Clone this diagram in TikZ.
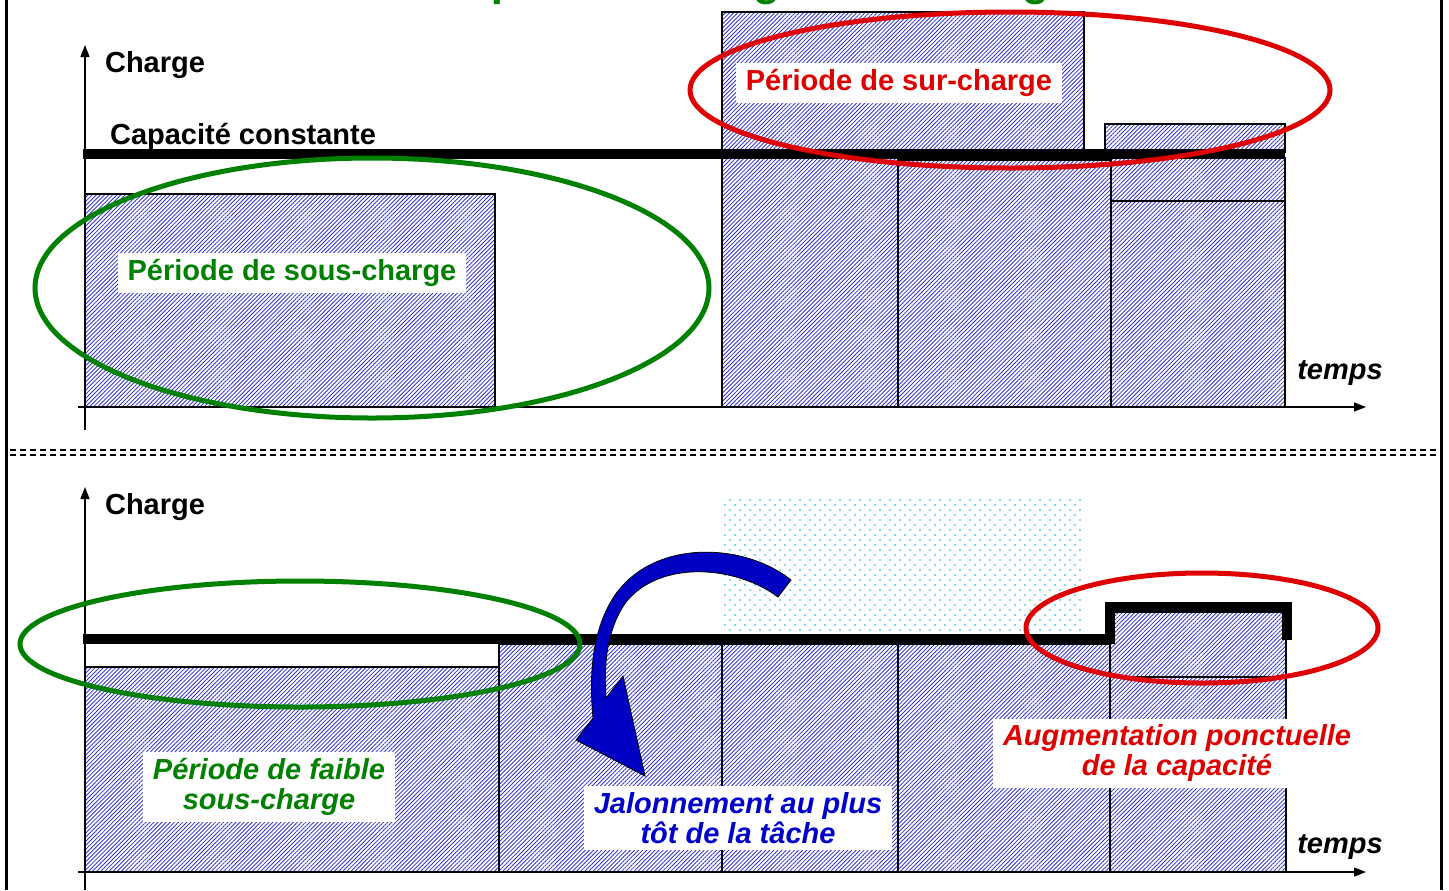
\documentclass[tikz,border=0pt]{standalone}
\usepackage{fontspec}
\setmainfont{Liberation Sans}
\usetikzlibrary{arrows.meta, patterns.meta}

\definecolor{loadgreen}{RGB}{0,128,0}
\definecolor{loadred}{RGB}{222,0,0}
\definecolor{loadblue}{RGB}{0,0,204}
\definecolor{hatchblue}{RGB}{50,50,205}
\definecolor{dotcyan}{RGB}{20,175,230}

\pgfdeclarepatternformonly{speckle}{\pgfqpoint{-1pt}{-1pt}}{\pgfqpoint{6pt}{6pt}}{\pgfqpoint{5pt}{5pt}}{%
  \pgfpathcircle{\pgfqpoint{0pt}{0pt}}{0.4pt}
  \pgfpathcircle{\pgfqpoint{2.5pt}{2.5pt}}{0.4pt}
  \pgfusepath{fill}}

\begin{document}
\begin{tikzpicture}[
    x=0.5pt, y=-0.5pt,
    font=\fontsize{14.5}{15}\selectfont\bfseries,
    loadbar/.style={draw, line width=0.7pt, pattern={Lines[angle=45, distance=1.45pt, line width=0.42pt]}, pattern color=hatchblue},
    capline/.style={line width=5pt},
    axis/.style={-{Triangle[length=6pt, width=4.5pt]}, line width=0.7pt},
    zone/.style={line width=2.5pt},
    tag/.style={fill=white, inner xsep=5pt, inner ysep=3pt, align=center},
    slant/.style={font=\fontsize{14.5}{15}\selectfont\bfseries\itshape}
]
  \useasboundingbox (0,0) rectangle (1449,890);

  % title, cut by the page
  \node[anchor=base, text=loadgreen, font=\fontsize{22}{24}\selectfont\bfseries] (title) at (706,-5) {Techniques de lissage de la charge};

  % frame and separator
  \draw[line width=1.5pt] (6,0) -- (6,890);
  \draw[line width=1.5pt] (1441,0) -- (1441,890);
  \draw[line width=0.6pt, dash pattern=on 3pt off 2pt] (10,450) -- (1438,450);
  \draw[line width=0.6pt, dash pattern=on 3pt off 2pt] (10,455) -- (1438,455);

  % upper panel: load bars
  \draw[loadbar] (85,194) rectangle (495,407);
  \draw[loadbar] (722,12) rectangle (1084,152);
  \draw[loadbar] (722,158) rectangle (898,407);
  \draw[loadbar] (898,160) rectangle (1111,407);
  \draw[loadbar] (1105,124) rectangle (1285,152);
  \draw[loadbar] (1111,158) rectangle (1285,201);
  \draw[loadbar] (1111,201) rectangle (1285,407);

  \coordinate (o1) at (85,407);
  \coordinate (y1) at (85,45);
  \coordinate (x1) at (1366,407);
  \draw[axis] (85,430) -- (y1);
  \draw[axis] (78,407) -- (x1);

  \node[anchor=west] (charge1) at (98,65) {Charge};
  \node[anchor=west] (capa) at (103,137) {Capacité constante};
  \node[slant] (temps1) at (1340,373) {temps};

  \draw[capline] (83,154) -- (1285,154);

  \draw[zone, loadred] (1010,90) ellipse [x radius=160pt, y radius=39pt];
  \draw[zone, loadgreen] (372,288) ellipse [x radius=168.5pt, y radius=65pt];

  \node[tag, text=loadred] (sur) at (899,83) {Période de sur-charge};
  \node[tag, text=loadgreen] (sous) at (292,273) {Période de sous-charge};

  % lower panel: dotted load moved away
  \fill[pattern=speckle, pattern color=dotcyan] (724,497) rectangle (1083,634);

  \draw[loadbar] (85,667) rectangle (499,872);
  \draw[loadbar] (499,644) rectangle (722,872);
  \draw[loadbar] (722,644) rectangle (898,872);
  \draw[loadbar] (898,644) rectangle (1110,872);
  \draw[loadbar] (1110,612) rectangle (1286,677);
  \draw[loadbar] (1110,677) rectangle (1286,872);

  \coordinate (o2) at (85,872);
  \coordinate (y2) at (85,487);
  \coordinate (x2) at (1366,872);
  \draw[axis] (85,890) -- (y2);
  \draw[axis] (78,872) -- (x2);

  \node[anchor=west] (charge2) at (98,507) {Charge};
  \node[slant] (temps2) at (1340,847) {temps};

  \draw[capline] (83,639) -- (1110,639) -- (1110,607) -- (1287,607) -- (1287,640);

  \draw[zone, loadgreen] (300,644) ellipse [x radius=140pt, y radius=31.5pt];
  \draw[zone, loadred] (1202,628) ellipse [x radius=88pt, y radius=27.5pt];

  % shifting arrow
  \filldraw[fill={rgb,255:red,0;green,0;blue,195}, draw=black, line width=0.4pt]
    (791,580) .. controls (745,543) and (655,538) .. (615,595)
    .. controls (595,625) and (588,665) .. (593,718)
    -- (576,740) -- (645,776) -- (623,676) -- (606,698)
    .. controls (603,655) and (610,625) .. (626,602)
    .. controls (660,560) and (735,565) .. (778,597) -- cycle;

  \node[tag, slant, text=loadgreen] (faible) at (269,787) {Période de faible\\sous-charge};
  \node[tag, slant, text=loadblue] (jalon) at (738,818) {Jalonnement au plus\\tôt de la tâche};
  \node[tag, slant, text=loadred] (augm) at (1177,753) {Augmentation ponctuelle\\de la capacité};
\end{tikzpicture}
\end{document}
